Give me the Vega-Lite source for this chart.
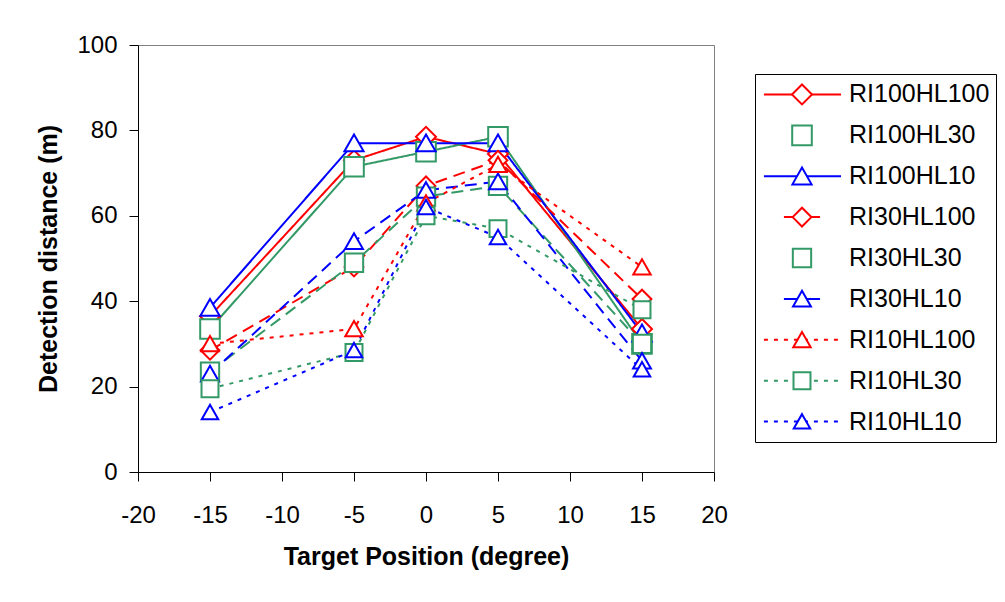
{
  "$schema": "https://vega.github.io/schema/vega-lite/v6.json",
  "padding": {"left": 36, "top": 32, "right": 5, "bottom": 5},
  "background": "white",
  "spacing": 26,
  "config": {
    "font": "Liberation Sans",
    "legend": {"disable": true},
    "view": {"stroke": "#808080", "strokeWidth": 1}
  },
  "data": {"values": [
    {"series": "RI100HL100", "x": -15, "y": 36.5},
    {"series": "RI100HL100", "x": -5, "y": 73},
    {"series": "RI100HL100", "x": 0, "y": 78.5},
    {"series": "RI100HL100", "x": 5, "y": 74.5},
    {"series": "RI100HL100", "x": 15, "y": 33.5},
    {"series": "RI100HL30", "x": -15, "y": 33.5},
    {"series": "RI100HL30", "x": -5, "y": 71.5},
    {"series": "RI100HL30", "x": 0, "y": 75},
    {"series": "RI100HL30", "x": 5, "y": 78.5},
    {"series": "RI100HL30", "x": 15, "y": 30},
    {"series": "RI100HL10", "x": -15, "y": 38.5},
    {"series": "RI100HL10", "x": -5, "y": 77},
    {"series": "RI100HL10", "x": 0, "y": 77},
    {"series": "RI100HL10", "x": 5, "y": 77},
    {"series": "RI100HL10", "x": 15, "y": 32.5},
    {"series": "RI30HL100", "x": -15, "y": 28.5},
    {"series": "RI30HL100", "x": -5, "y": 48},
    {"series": "RI30HL100", "x": 0, "y": 67},
    {"series": "RI30HL100", "x": 5, "y": 73},
    {"series": "RI30HL100", "x": 15, "y": 40.5},
    {"series": "RI30HL30", "x": -15, "y": 23.5},
    {"series": "RI30HL30", "x": -5, "y": 49},
    {"series": "RI30HL30", "x": 0, "y": 64.5},
    {"series": "RI30HL30", "x": 5, "y": 67},
    {"series": "RI30HL30", "x": 15, "y": 30},
    {"series": "RI30HL10", "x": -15, "y": 23},
    {"series": "RI30HL10", "x": -5, "y": 54},
    {"series": "RI30HL10", "x": 0, "y": 66},
    {"series": "RI30HL10", "x": 5, "y": 68},
    {"series": "RI30HL10", "x": 15, "y": 26},
    {"series": "RI10HL100", "x": -15, "y": 30},
    {"series": "RI10HL100", "x": -5, "y": 33.5},
    {"series": "RI10HL100", "x": 0, "y": 63},
    {"series": "RI10HL100", "x": 5, "y": 72},
    {"series": "RI10HL100", "x": 15, "y": 48},
    {"series": "RI10HL30", "x": -15, "y": 19.5},
    {"series": "RI10HL30", "x": -5, "y": 28},
    {"series": "RI10HL30", "x": 0, "y": 60},
    {"series": "RI10HL30", "x": 5, "y": 57},
    {"series": "RI10HL30", "x": 15, "y": 38},
    {"series": "RI10HL10", "x": -15, "y": 14},
    {"series": "RI10HL10", "x": -5, "y": 28.5},
    {"series": "RI10HL10", "x": 0, "y": 62},
    {"series": "RI10HL10", "x": 5, "y": 55},
    {"series": "RI10HL10", "x": 15, "y": 24}
  ]},
  "hconcat": [
    {
      "width": 576,
      "height": 427,
      "layer": [
        {
          "mark": {"type": "line"},
          "encoding": {
            "x": {"field": "x", "type": "quantitative", "scale": {"domain": [-20, 20], "nice": false, "zero": false},
              "axis": {"values": [-20, -15, -10, -5, 0, 5, 10, 15, 20], "labelExpr": "'' + datum.value", "grid": false, "tickSize": 9, "labelFontSize": 24, "labelPadding": 22, "labelFlush": false, "labelColor": "black", "domainColor": "black", "tickColor": "black", "title": "Target Position (degree)", "titleFontSize": 25, "titleFontWeight": "bold", "titleColor": "black", "titlePadding": 17}},
            "y": {"field": "y", "type": "quantitative", "scale": {"domain": [0, 100], "nice": false},
              "axis": {"values": [0, 20, 40, 60, 80, 100], "grid": false, "tickSize": 9, "labelFontSize": 24, "labelPadding": 12, "labelFlush": false, "labelColor": "black", "domainColor": "black", "tickColor": "black", "title": "Detection distance (m)", "titleFontSize": 25, "titleFontWeight": "bold", "titleColor": "black", "titlePadding": 15}},
            "color": {"field": "series", "type": "nominal", "legend": null,
              "scale": {"domain": ["RI100HL100", "RI100HL30", "RI100HL10", "RI30HL100", "RI30HL30", "RI30HL10", "RI10HL100", "RI10HL30", "RI10HL10"],
                "range": ["#FF0000", "#339966", "#0000FF", "#FF0000", "#339966", "#0000FF", "#FF0000", "#339966", "#0000FF"]}},
            "strokeDash": {"field": "series", "type": "nominal", "legend": null,
              "scale": {"domain": ["RI100HL100", "RI100HL30", "RI100HL10", "RI30HL100", "RI30HL30", "RI30HL10", "RI10HL100", "RI10HL30", "RI10HL10"],
                "range": [[1, 0], [1, 0], [1, 0], [12, 7], [12, 7], [12, 7], [4, 6], [4, 6], [4, 6]]}},
            "strokeWidth": {"field": "series", "type": "nominal", "legend": null,
              "scale": {"domain": ["RI100HL100", "RI100HL30", "RI100HL10", "RI30HL100", "RI30HL30", "RI30HL10", "RI10HL100", "RI10HL30", "RI10HL10"],
                "range": [2, 2, 2, 3, 3, 3, 2.5, 2.5, 2.5]}}
          }
        },
        {
          "mark": {"type": "point", "filled": false, "fill": "white", "strokeWidth": 2, "opacity": 1},
          "encoding": {
            "x": {"field": "x", "type": "quantitative"},
            "y": {"field": "y", "type": "quantitative"},
            "color": {"field": "series", "type": "nominal", "legend": null},
            "shape": {"field": "series", "type": "nominal", "legend": null,
              "scale": {"domain": ["RI100HL100", "RI100HL30", "RI100HL10", "RI30HL100", "RI30HL30", "RI30HL10", "RI10HL100", "RI10HL30", "RI10HL10"],
                "range": ["diamond", "square", "M0,-0.9L1,0.85L-1,0.85Z", "diamond", "square", "M0,-0.9L1,0.85L-1,0.85Z", "M0,-0.9L1,0.85L-1,0.85Z", "square", "M0,-0.9L1,0.85L-1,0.85Z"]}},
            "size": {"field": "series", "type": "nominal", "legend": null,
              "scale": {"domain": ["RI100HL100", "RI100HL30", "RI100HL10", "RI30HL100", "RI30HL30", "RI30HL10", "RI10HL100", "RI10HL30", "RI10HL10"],
                "range": [400, 272, 324, 400, 272, 324, 324, 272, 324]}}
          }
        }
      ]
    },
    {
      "spacing": 20,
      "vconcat": [
        {
          "width": 241,
          "height": 8,
          "view": {"stroke": null},
          "data": {"values": [{"a": 1}]},
          "mark": {"type": "point", "opacity": 0},
          "encoding": {}
        },
        {
          "width": 241,
          "height": 368,
          "view": {"stroke": "black", "strokeWidth": 1},
          "transform": [{"filter": {"field": "x", "equal": -15}}],
          "layer": [
            {
              "transform": [{"filter": {"field": "series", "oneOf": ["RI100HL100", "RI100HL10", "RI10HL100", "RI10HL30", "RI10HL10"]}}],
              "mark": {"type": "rule"},
              "encoding": {
                "x": {"datum": 0.37, "type": "quantitative", "scale": {"domain": [0, 10], "nice": false}, "axis": null},
                "x2": {"datum": 3.57},
                "y": {"field": "series", "type": "nominal", "axis": null,
                  "scale": {"type": "point", "padding": 0.5, "domain": ["RI100HL100", "RI100HL30", "RI100HL10", "RI30HL100", "RI30HL30", "RI30HL10", "RI10HL100", "RI10HL30", "RI10HL10"]}},
                "color": {"field": "series", "type": "nominal", "legend": null},
                "strokeDash": {"field": "series", "type": "nominal", "legend": null},
                "strokeWidth": {"value": 2}
              }
            },
            {
              "transform": [{"filter": {"field": "series", "oneOf": ["RI30HL100", "RI30HL10"]}}],
              "mark": {"type": "rule"},
              "encoding": {
                "x": {"datum": 1.2, "type": "quantitative", "scale": {"domain": [0, 10], "nice": false}, "axis": null},
                "x2": {"datum": 2.7},
                "y": {"field": "series", "type": "nominal", "axis": null},
                "color": {"field": "series", "type": "nominal", "legend": null},
                "strokeWidth": {"value": 2}
              }
            },
            {
              "mark": {"type": "point", "filled": false, "fill": "white", "strokeWidth": 2, "opacity": 1},
              "encoding": {
                "x": {"datum": 1.95, "type": "quantitative", "scale": {"domain": [0, 10], "nice": false}, "axis": null},
                "y": {"field": "series", "type": "nominal", "axis": null},
                "color": {"field": "series", "type": "nominal", "legend": null},
                "shape": {"field": "series", "type": "nominal", "legend": null},
                "size": {"field": "series", "type": "nominal", "legend": null}
              }
            },
            {
              "mark": {"type": "text", "align": "left", "baseline": "middle", "fontSize": 25, "color": "black"},
              "encoding": {
                "x": {"datum": 3.9, "type": "quantitative", "scale": {"domain": [0, 10], "nice": false}, "axis": null},
                "y": {"field": "series", "type": "nominal", "axis": null},
                "text": {"field": "series", "type": "nominal"}
              }
            }
          ]
        }
      ]
    }
  ]
}
